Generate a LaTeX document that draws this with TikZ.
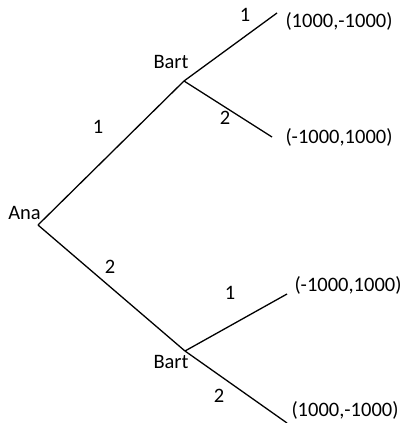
\documentclass[tikz,border=0pt]{standalone}
\usepackage{fontspec}
\setmainfont{Carlito}
\begin{document}
\begin{tikzpicture}[x=1pt,y=-1pt,
  edge/.style={line width=1.3pt,black},
  lbl/.style={font=\fontsize{20.5}{24}\selectfont,inner sep=0pt,anchor=center}]
\useasboundingbox (0,0) rectangle (405,423);
% junctions and leaves
\coordinate (ana) at (38,225);
\coordinate (b1) at (184,81);
\coordinate (b2) at (185,351);
\coordinate (l1) at (277,13);
\coordinate (l2) at (272,137);
\coordinate (l3) at (287,294);
\coordinate (l4) at (287,423);
% edges
\draw[edge] (ana) -- (b1);
\draw[edge] (ana) -- (b2);
\draw[edge] (b1) -- (l1);
\draw[edge] (b1) -- (l2);
\draw[edge] (b2) -- (l3);
\draw[edge] (b2) -- (l4);
% player labels
\node[lbl] (anaL) at (24.5,212.5) {Ana};
\node[lbl] (b1L) at (171,62) {Bart};
\node[lbl] (b2L) at (171,362) {Bart};
% action labels
\node[lbl] (a1) at (98,127) {1};
\node[lbl] (a2) at (110,267) {2};
\node[lbl] (u1) at (245,15) {1};
\node[lbl] (u2) at (225,118) {2};
\node[lbl] (d1) at (230,293) {1};
\node[lbl] (d2) at (219,396) {2};
% payoffs
\node[lbl] (p1) at (339,21) {(1000,-1000)};
\node[lbl] (p2) at (339,137) {(-1000,1000)};
\node[lbl] (p3) at (348,285) {(-1000,1000)};
\node[lbl] (p4) at (345,410) {(1000,-1000)};
\end{tikzpicture}
\end{document}
